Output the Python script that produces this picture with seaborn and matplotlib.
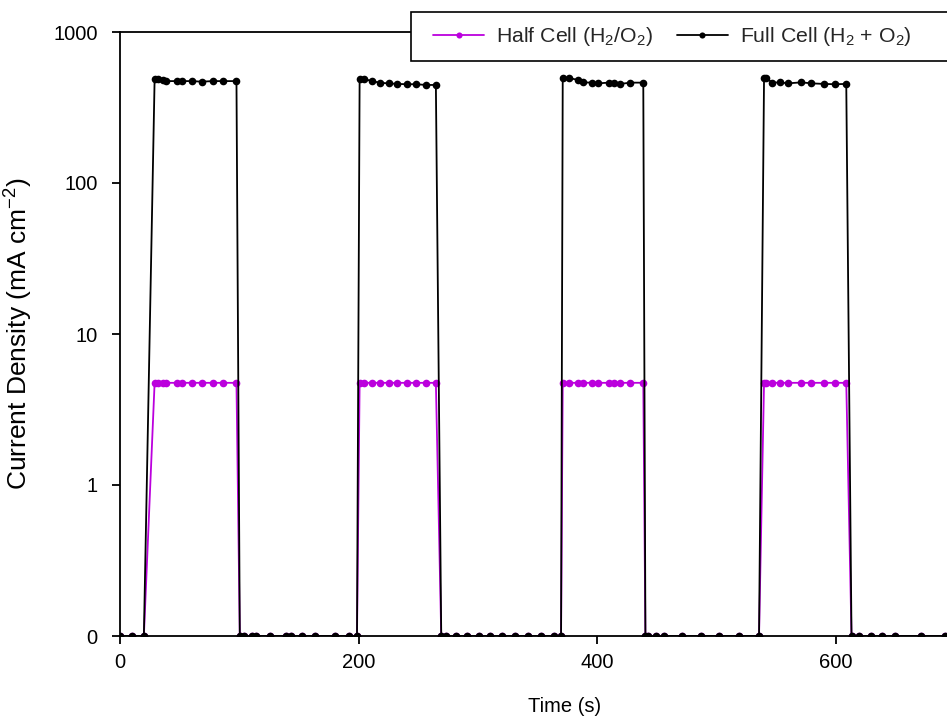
import numpy as np
import pandas as pd
import matplotlib
matplotlib.use("Agg")
import matplotlib.pyplot as plt
from matplotlib.patches import Rectangle
from matplotlib.ticker import FixedLocator, FixedFormatter, NullLocator
import seaborn as sns

sns.set_theme(style="ticks")
plt.rcParams["font.family"] = ["Liberation Sans", "DejaVu Sans"]
plt.rcParams["mathtext.default"] = "regular"

# Sampling times (s), shared by both cells
time_s = [
    0, 10, 20,
    29, 31.5, 35.7, 38.7, 47.5, 52, 60, 68.4, 77.8, 86, 97.6,
    100.4, 103.8, 110.2, 113.8, 126.1, 138.9, 143.6, 152.8, 163.2, 179.9, 191.9, 198.6,
    200.8, 204.4, 211.2, 218, 225, 232.5, 240.2, 248, 256.3, 264.7,
    269.2, 273.3, 281.7, 290.9, 300.7, 310.4, 320.5, 330.8, 342, 352.8, 364, 369.6,
    371, 376, 383.5, 387.7, 395.5, 400.8, 409.4, 414.2, 419.2, 427.6, 438.5,
    440.3, 442.1, 449.1, 455.5, 470.8, 486.5, 502.1, 518.8, 535.5,
    539.7, 541.7, 546.7, 553.1, 559.8, 571, 579.4, 590, 599.2, 608.6,
    613, 619.2, 629, 638.2, 649.4, 670.9, 691.2,
]

# Current density (mA cm^-2), light off = 0
full_cell = [
    0, 0, 0,
    486, 486, 481, 473, 473, 473, 473, 469, 473, 473, 473,
    0, 0, 0, 0, 0, 0, 0, 0, 0, 0, 0, 0,
    489, 489, 473, 461, 457, 453, 451, 451, 446, 446,
    0, 0, 0, 0, 0, 0, 0, 0, 0, 0, 0, 0,
    493, 498, 481, 464, 462, 457, 462, 462, 453, 462, 462,
    0, 0, 0, 0, 0, 0, 0, 0, 0,
    498, 493, 462, 464, 457, 464, 457, 453, 451, 453,
    0, 0, 0, 0, 0, 0, 0,
]
half_cell = [
    0, 0, 0,
    4.75, 4.75, 4.75, 4.75, 4.75, 4.75, 4.75, 4.75, 4.75, 4.75, 4.75,
    0, 0, 0, 0, 0, 0, 0, 0, 0, 0, 0, 0,
    4.75, 4.75, 4.75, 4.75, 4.75, 4.75, 4.75, 4.75, 4.75, 4.75,
    0, 0, 0, 0, 0, 0, 0, 0, 0, 0, 0, 0,
    4.75, 4.75, 4.75, 4.75, 4.75, 4.75, 4.75, 4.75, 4.75, 4.75, 4.75,
    0, 0, 0, 0, 0, 0, 0, 0, 0,
    4.75, 4.75, 4.75, 4.75, 4.75, 4.75, 4.75, 4.75, 4.75, 4.75,
    0, 0, 0, 0, 0, 0, 0,
]

series_labels = ["Half Cell (H$_2$/O$_2$)", "Full Cell (H$_2$ + O$_2$)"]
series_colors = ["#BB00DD", "#000000"]

y_ticks = [0.1, 1, 10, 100, 1000]
y_tick_labels = ["0", "1", "10", "100", "1000"]
x_ticks = [0, 200, 400, 600]

# The log axis starts at its lowest tick, which stands for zero current
y_floor = y_ticks[0]

df = pd.concat([
    pd.DataFrame({"Time": time_s, "Current": half_cell, "Cell": series_labels[0]}),
    pd.DataFrame({"Time": time_s, "Current": full_cell, "Cell": series_labels[1]}),
], ignore_index=True)
df["Plotted"] = np.where(df["Current"] > 0, df["Current"], y_floor)

W, H = 947, 724
fig = plt.figure(figsize=(W / 100, H / 100), dpi=100)
x_max = 745
px_per_s = (836 - 120) / 600
ax = fig.add_axes([120 / W, 1 - 636 / H, x_max * px_per_s / W, (636 - 32) / H])

sns.lineplot(
    data=df, x="Time", y="Plotted", hue="Cell",
    palette=dict(zip(series_labels, series_colors)),
    hue_order=series_labels, marker="o", markersize=5.5,
    markeredgewidth=0, linewidth=1.3, sort=False, estimator=None,
    ax=ax, legend=True,
)

ax.set_yscale("log")
ax.set_ylim(y_floor, 1000)
ax.set_xlim(0, x_max)
ax.yaxis.set_major_locator(FixedLocator(y_ticks))
ax.yaxis.set_major_formatter(FixedFormatter(y_tick_labels))
ax.yaxis.set_minor_locator(NullLocator())
ax.xaxis.set_major_locator(FixedLocator(x_ticks))
ax.xaxis.set_minor_locator(NullLocator())

for side in ["left", "bottom", "top", "right"]:
    ax.spines[side].set_color("black")
    ax.spines[side].set_linewidth(1.3)

ax.tick_params(axis="both", which="major", direction="out", length=6,
               width=1.3, color="black", labelsize=14.5, labelcolor="black")
ax.tick_params(axis="x", pad=6)
ax.tick_params(axis="y", pad=10)
ax.set_xlabel("Time (s)", fontsize=14.5, color="black", labelpad=18)
ax.set_ylabel("Current Density (mA cm$^{-2}$)", fontsize=19, color="black", labelpad=13)

# Legend box, sitting across the top edge of the plot
box = Rectangle((411 / W, 1 - 61 / H), (980 - 411) / W, 49 / H,
                transform=fig.transFigure, facecolor="white", edgecolor="black",
                linewidth=1.2, zorder=5)
fig.patches.append(box)

handles, labels = ax.get_legend_handles_labels()
ax.get_legend().remove()
leg = fig.legend(
    handles, labels, loc="center left",
    bbox_to_anchor=(433 / W, 1 - 36.5 / H), bbox_transform=fig.transFigure,
    ncol=2, frameon=False, fontsize=15.3, handlelength=2.4,
    columnspacing=1.15, borderaxespad=0, borderpad=0,
    markerscale=0.8, handletextpad=0.55,
)
leg.set_zorder(6)

fig.savefig("out.png", dpi=100)
